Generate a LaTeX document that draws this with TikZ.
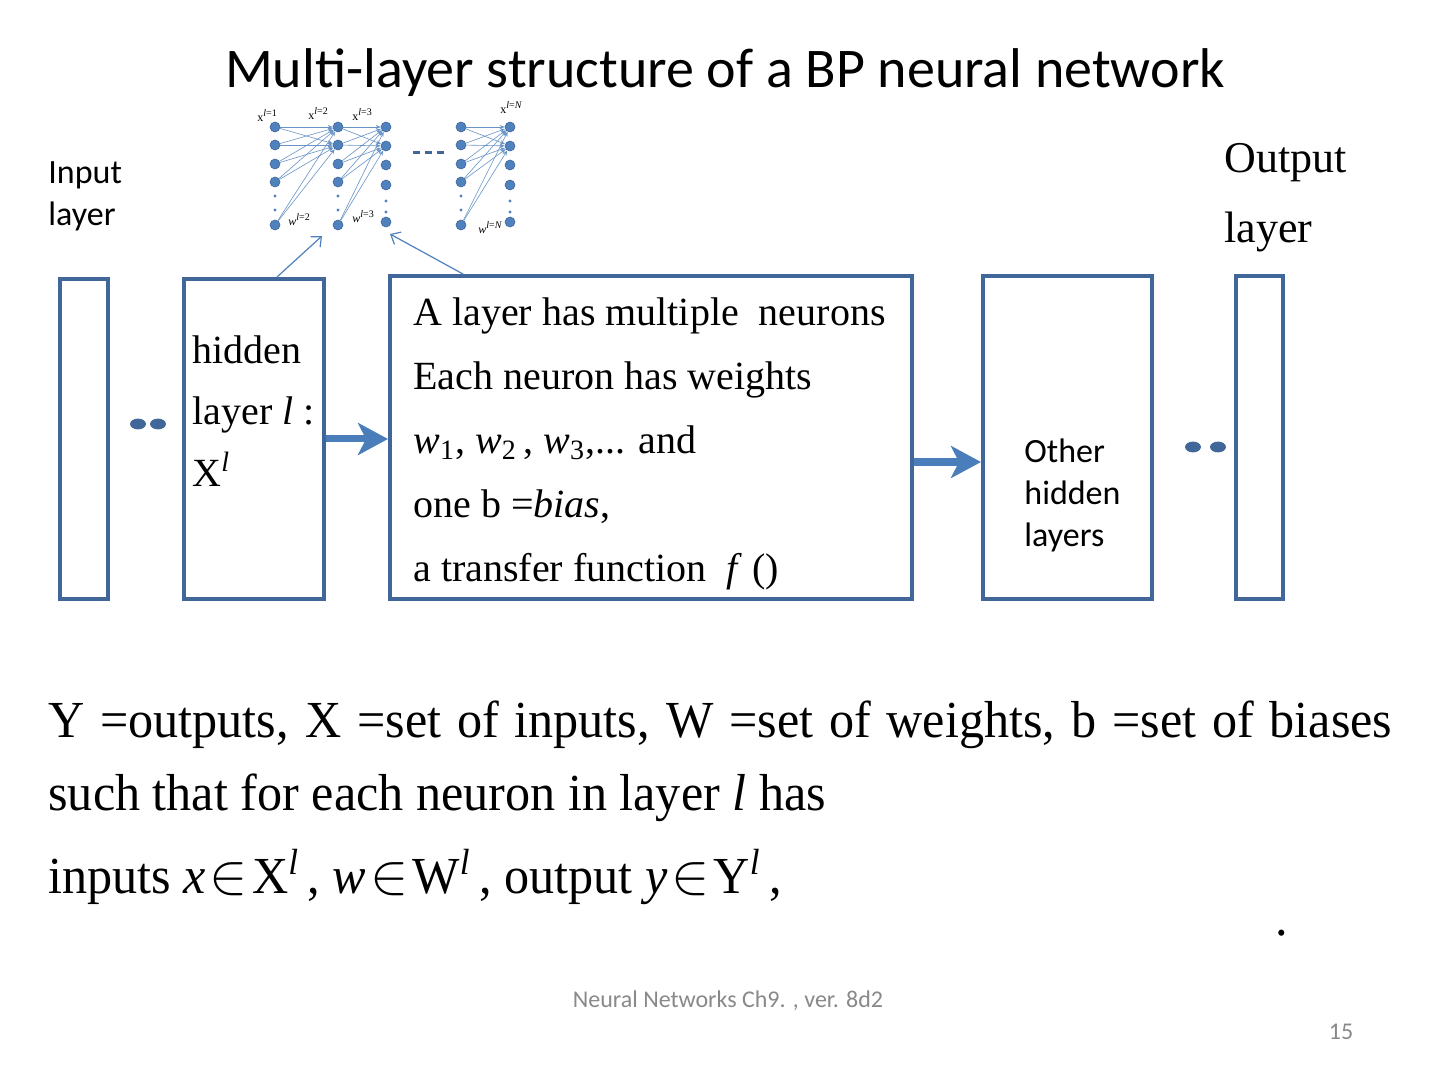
\documentclass[tikz,border=0pt]{standalone}
\usepackage{fontspec}
\setmainfont{Liberation Serif}
\newfontfamily\calibri{Carlito}
\newfontfamily\narrowtimes[FakeStretch=0.965]{Liberation Serif}
\usetikzlibrary{arrows.meta,shapes.geometric}

\definecolor{boxblue}{RGB}{65,103,154}
\definecolor{arrowblue}{RGB}{74,126,187}
\definecolor{neuronblue}{RGB}{79,129,189}
\definecolor{footgray}{RGB}{137,137,137}

\tikzset{
  layerbox/.style={draw=boxblue, line width=2pt, inner sep=0pt},
  bigarrow/.style={draw=arrowblue, line width=3.5pt, -{Stealth[length=15pt,width=16pt,inset=4pt]}},
  thinarrow/.style={draw=neuronblue, line width=0.6pt, -{Straight Barb[length=4pt,width=7pt]}},
  neuron/.style={circle, fill=neuronblue, draw=boxblue, line width=0.3pt, inner sep=0pt, minimum size=5pt},
  wire/.style={draw=neuronblue!85, line width=0.3pt, -{Stealth[length=2.5pt,width=2pt]}},
  vdot/.style={circle, fill=neuronblue, inner sep=0pt, minimum size=1.6pt},
  hdot/.style={ellipse, fill=boxblue, draw=boxblue, inner sep=0pt, minimum width=7.5pt, minimum height=5pt},
  tinylabel/.style={font=\fontsize{6}{7}\selectfont, inner sep=0pt, anchor=west},
  boxtext/.style={font=\fontsize{20}{31}\selectfont, align=left, anchor=base west, inner sep=0pt},
  sanstext/.style={font=\calibri\fontsize{17}{21}\selectfont, align=left, anchor=base west, inner sep=0pt},
  bottomtext/.style={font=\narrowtimes\fontsize{26}{30}\selectfont, anchor=base west, inner sep=0pt},
}
\newcommand{\bigin}{\hspace{2pt}\scalebox{1.15}{$\in$}\hspace{2pt}}

\begin{document}
\begin{tikzpicture}[x=0.5pt,y=-0.5pt]
    \fill[white] (0,0) rectangle (1440,1080);
    \useasboundingbox (0,0) rectangle (1440,1080);

    % title
    \node[font=\calibri\fontsize{28}{34}\selectfont, anchor=base, inner sep=0pt] (title) at (725,88) {Multi-layer structure of a BP neural network};

    % layers
    \node[layerbox, minimum width=24pt, minimum height=160pt] (inl) at (84,439) {};
    \node[layerbox, minimum width=70pt, minimum height=160pt] (hid) at (254,439) {};
    \node[layerbox, minimum width=261pt, minimum height=161.5pt] (big) at (651,437.5) {};
    \node[layerbox, minimum width=84.5pt, minimum height=161.5pt] (oth) at (1067.5,437.5) {};
    \node[layerbox, minimum width=23.5pt, minimum height=161.5pt] (outl) at (1259.5,437.5) {};

    % texts (base = last line)
    \node[sanstext] (inlab) at (48,226) {Input\\layer};
    \node[font=\fontsize{22}{35}\selectfont, align=left, anchor=base west, inner sep=0pt] (outlab) at (1224,243) {Output\\layer};
    \node[boxtext] (hidtxt) at (192,487) {hidden\\layer \textit{l} :\\X\textsuperscript{\textit{l}}};
    \node[boxtext, font=\fontsize{20}{32}\selectfont] (bigtxt) at (413,581) {A layer has multiple\ \ neurons\\Each neuron has weights\\\textit{w}\textsubscript{1}, \textit{w}\textsubscript{2}\,, \textit{w}\textsubscript{3},... and\\one b =\textit{bias},\\a transfer\ function\ \ \textit{f} ()};
    \node[sanstext] (othtxt) at (1024,546) {Other\\hidden\\layers};

    % dots between layers
    \node[hdot] (da) at (138,424) {};
    \node[hdot] (db) at (158,424) {};
    \node[hdot] (dc) at (1193,447) {};
    \node[hdot] (dd) at (1218,447) {};

    % block arrows
    \draw[bigarrow] (hid.east) -- (big.west |- hid.east);
    \draw[bigarrow] ([yshift=-12.25pt]big.east) -- ([yshift=-12.25pt]big.east -| oth.west);

    % small network
    \foreach \c/\x in {1/275,2/338,4/461} {
        \foreach \y [count=\i] in {127,145,164,182,225}
            \node[neuron] (n\c-\i) at (\x,\y) {};
        \foreach \y in {196,210}
            \node[vdot] (d\c-\y) at (\x,\y) {};
    }
    \foreach \c/\x in {3/386,5/510} {
        \foreach \y [count=\i] in {127,146,165,185,222}
            \node[neuron] (n\c-\i) at (\x,\y) {};
        \foreach \y in {201,212}
            \node[vdot] (d\c-\y) at (\x,\y) {};
    }
    \foreach \s/\t in {1/2,2/3,4/5}
        \foreach \i in {1,...,5}
            \foreach \j in {1,2}
                \draw[wire] (n\s-\i) -- (n\t-\j);
    \draw[boxblue, line width=1.5pt, dash pattern=on 3.5pt off 2.5pt] (413,153) -- (444,153);

    \node[tinylabel] (lx1) at (257,116) {x\textsuperscript{\textit{l}=1}};
    \node[tinylabel] (lx2) at (308,114) {x\textsuperscript{\textit{l}=2}};
    \node[tinylabel] (lx3) at (352,115) {x\textsuperscript{\textit{l}=3}};
    \node[tinylabel] (lxn) at (500,108) {x\textsuperscript{\textit{l}=\textit{N}}};
    \node[tinylabel] (lw2) at (288,220) {\textit{w}\textsuperscript{\textit{l}=2}};
    \node[tinylabel] (lw3) at (352,217) {\textit{w}\textsuperscript{\textit{l}=3}};
    \node[tinylabel] (lwn) at (478,228) {\textit{w}\textsuperscript{\textit{l}=\textit{N}}};

    % pointers to the small network
    \coordinate (pa) at (322,236);
    \coordinate (pb) at (390,234);
    \draw[thinarrow] ([xshift=11.5pt]hid.north) -- (pa);
    \draw[thinarrow] ([xshift=37.5pt]big.north west) -- (pb);

    % bottom text
    \node[bottomtext] (row1) at (48,737) {\makebox[672pt][s]{Y =outputs, X =set of inputs, W =set of weights, b =set of biases}};
    \node[bottomtext] (row2) at (48,810) {such that for each neuron in layer \textit{l} has};
    \node[bottomtext] (row3) at (48,893) {inputs \textit{x}\bigin X\textsuperscript{\textit{l}}\,, \textit{w}\bigin W\textsuperscript{\textit{l}}\,, output \textit{y}\bigin Y\textsuperscript{\textit{l}}\,,};
    \node[bottomtext] (stop) at (1275,935) {.};

    % footer
    \node[font=\calibri\fontsize{12}{14}\selectfont, text=footgray, inner sep=0pt] (foot) at (728,1001) {Neural Networks Ch9. , ver. 8d2};
    \node[font=\calibri\fontsize{12}{14}\selectfont, text=footgray, inner sep=0pt] (pnum) at (1341,1032) {15};
\end{tikzpicture}
\end{document}
